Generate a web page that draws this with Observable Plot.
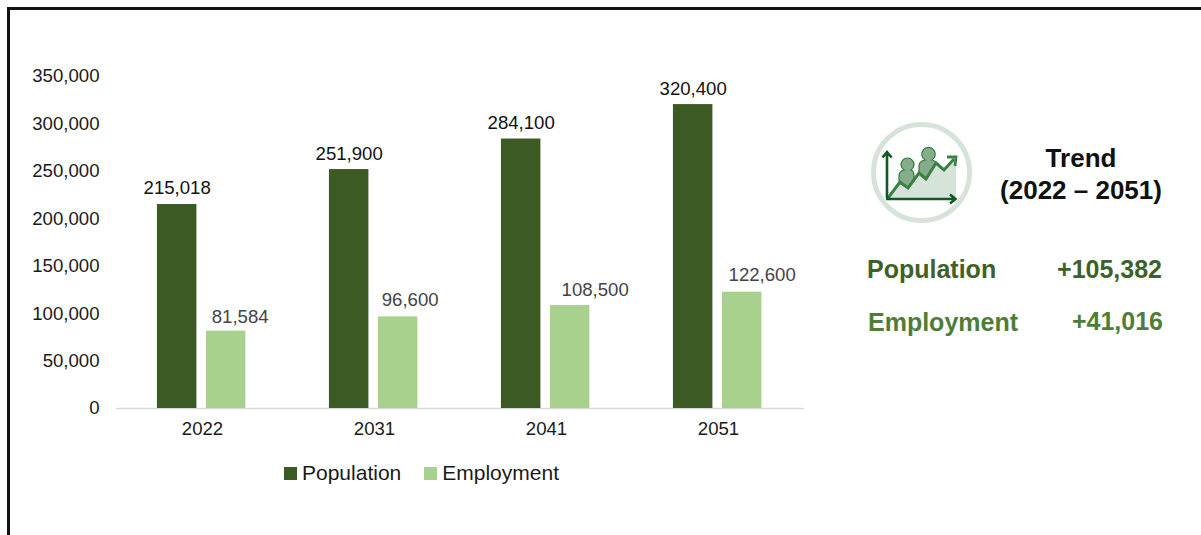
<!DOCTYPE html>
<html>
<head>
<meta charset="utf-8">
<script src="https://cdn.jsdelivr.net/npm/d3@7"></script>
<script src="https://cdn.jsdelivr.net/npm/@observablehq/plot@0.6"></script>
<style>
  html, body { margin: 0; padding: 0; background: #fff; }
  #page {
    position: relative; width: 1201px; height: 535px; overflow: hidden;
    font-family: "Liberation Sans", Arial, sans-serif; background: #fff;
  }
  #frame {
    position: absolute; left: 7px; top: 7px; width: 1300px; height: 700px;
    border: 3px solid #111; box-sizing: border-box;
  }
  #chart { position: absolute; left: 0; top: 0; }
  #chart svg { display: block; background: transparent; }
  #legend {
    position: absolute; left: 284px; top: 459px; height: 28px; display: flex;
    align-items: center; font-size: 21px; color: #1a1a1a; white-space: nowrap;
  }
  #legend i { display: inline-block; width: 13px; height: 13px; margin-right: 5px; }
  #legend span { display: flex; align-items: center; margin-right: 23px; }
  .t { position: absolute; font-weight: bold; white-space: nowrap; line-height: 1; }
  .c { transform: translateX(-50%); color: #111; font-size: 26px; }
  .r { transform: translateX(-100%); font-size: 25px; }
  #icon { position: absolute; left: 868px; top: 119px; }
</style>
</head>
<body>
<div id="page">
  <div id="frame"></div>
  <div id="chart"></div>
  <div id="legend"></div>
  <svg id="icon" width="107" height="108" viewBox="868 119 107 108" aria-hidden="true">
    <circle cx="921.5" cy="172.5" r="48" fill="#fff" stroke="#d5e3d8" stroke-width="5"/>
    <path d="M888 198 L900 182 L908 188 L919 173 L926 179 L936 163 L944 170 L956 160 L956 198 Z" fill="#d5e3d8"/>
    <g fill="#85ad8c" stroke="#2f7a3c" stroke-width="1.2">
      <path d="M899 183 V176 Q899 171 904 170 A6.5 6.5 0 1 1 911 170 Q914 171 914 176 V181 L908 188 Z"/>
      <path d="M919 173 V166 Q919 161 925 160 A6.8 6.8 0 1 1 932 160 Q936 161 936 163 L926 179 Z"/>
    </g>
    <path d="M888 198 L900 182 L908 188 L919 173 L926 179 L936 163 L944 170 L954 159" fill="none" stroke="#3a8045" stroke-width="3"/>
    <path d="M947 157 L956 157 L955 166" fill="none" stroke="#3a8045" stroke-width="2.8"/>
    <g fill="none" stroke="#0f5a1f" stroke-width="2.6">
      <path d="M887 198 V153 M882.5 157.5 L887 152 L891.5 157.5"/>
      <path d="M886 199 H955 M950 194.5 L955.5 199 L950 203.5"/>
    </g>
  </svg>
  <div class="t c" style="left:1081px;top:145px">Trend</div>
  <div class="t c" style="left:1081px;top:177px">(2022 – 2051)</div>
  <div class="t" id="popName" style="left:867px;top:257px;font-size:25px;color:#3f6128">Population</div>
  <div class="t r" id="popGain" style="left:1162px;top:257px;color:#3f6128"></div>
  <div class="t" id="empName" style="left:868px;top:310px;font-size:25px;color:#4e7d3a">Employment</div>
  <div class="t r" id="empGain" style="left:1163px;top:309px;color:#4e7d3a"></div>
</div>
<script>
// Forecast figures by horizon year
const years = ["2022", "2031", "2041", "2051"];
const seriesNames = ["Population", "Employment"];
const population = [215018, 251900, 284100, 320400];
const employment = [81584, 96600, 108500, 122600];
const yTicks = [0, 50000, 100000, 150000, 200000, 250000, 300000, 350000];

const seriesColors = ["#3b5a24", "#a9d18e"];
const fmt = d3.format(",");

const rows = years.flatMap((year, i) => [
  {year, series: seriesNames[0], value: population[i]},
  {year, series: seriesNames[1], value: employment[i]}
]);

// Employment labels sit off to the right of their bars, each by its own amount
const employmentLabelShift = [14, 12, 25, 20];
const employmentLabelLift = [14, 17, 16, 17];

const chart = Plot.plot({
  width: 820,
  height: 440,
  marginLeft: 116,
  marginRight: 16,
  marginTop: 76,
  marginBottom: 32,
  style: {fontFamily: '"Liberation Sans", Arial, sans-serif', fontSize: "18.6px", color: "#1a1a1a", background: "transparent"},
  fx: {domain: years, padding: 0, label: null, axis: null},
  x: {domain: seriesNames, paddingInner: 0.194, paddingOuter: 0.852, align: 0.49, round: false, axis: null, label: null},
  y: {domain: [0, 350000], label: null},
  color: {domain: seriesNames, range: seriesColors},
  marks: [
    Plot.axisY({ticks: yTicks, tickFormat: fmt, tickSize: 0, tickPadding: 16, label: null, fill: "#1a1a1a", dx: -1}),
    Plot.axisFx({anchor: "bottom", tickSize: 0, tickPadding: 13, label: null, fill: "#1a1a1a"}),
    Plot.ruleY([0], {stroke: "#d9d9d9", strokeWidth: 1.5}),
    Plot.barY(rows, {fx: "year", x: "series", y: "value", fill: "series"}),
    Plot.text(rows.filter(d => d.series === seriesNames[0]), {
      fx: "year", x: "series", y: "value", text: d => fmt(d.value),
      dy: -16, fill: "#111"
    }),
    ...rows.filter(d => d.series === seriesNames[1]).map((d, i) =>
      Plot.text([d], {
        fx: "year", x: "series", y: "value", text: r => fmt(r.value),
        dx: employmentLabelShift[i], dy: -employmentLabelLift[i], fill: "#444"
      })
    )
  ]
});
document.getElementById("chart").append(chart);

// Legend under the plot
const legend = document.getElementById("legend");
seriesNames.forEach((name, i) => {
  const item = document.createElement("span");
  const swatch = document.createElement("i");
  swatch.style.background = seriesColors[i];
  item.append(swatch, name);
  legend.append(item);
});

// Growth over the whole period, shown in the side panel
const gain = values => "+" + fmt(values[values.length - 1] - values[0]);
document.getElementById("popGain").textContent = gain(population);
document.getElementById("empGain").textContent = gain(employment);
</script>
</body>
</html>
